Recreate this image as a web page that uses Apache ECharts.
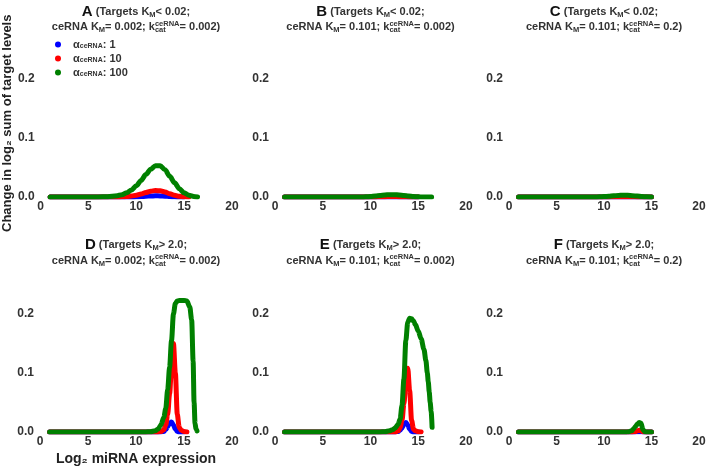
<!DOCTYPE html>
<html>
<head>
<meta charset="utf-8">
<script src="https://cdn.jsdelivr.net/npm/echarts@6/dist/echarts.min.js"></script>
<style>
  html, body { margin: 0; padding: 0; background: #fff; }
  #main { width: 709px; height: 468px; }
</style>
</head>
<body>
<div id="main"></div>
<script>
// panel text
const panelLetters = ['A', 'B', 'C', 'D', 'E', 'F'];
const targetKm = ['< 0.02;', '< 0.02;', '< 0.02;', '> 2.0;', '> 2.0;', '> 2.0;'];
const ceRnaKm = ['0.002', '0.101', '0.101', '0.002', '0.101', '0.101'];
const kcatCeRna = ['0.002', '0.002', '0.2', '0.002', '0.002', '0.2'];
const alphaLabels = ['1', '10', '100'];
const xTicks = [0, 5, 10, 15, 20];
const yTicks = [0, 0.1, 0.2];

// top row x positions (log2 miRNA expression)
const xTop = [1, 2, 3, 4, 5, 6, 7, 8, 8.5, 9, 9.5, 10, 10.5, 11, 11.5, 12, 12.5, 13, 13.5, 14, 14.5, 15, 15.5, 16, 16.4];
const aBlue = [0, 0, 0, 0, 0, 0, 0, 0, 0, 0, 0, 0.0003, 0.0007, 0.0013, 0.0018, 0.002, 0.0019, 0.0014, 0.0008, 0.0003, 0.0001, 0, null, null, null];
const aRed = [0, 0, 0, 0, 0, 0, 0, 0, 0.0003, 0.0008, 0.0018, 0.003, 0.005, 0.0075, 0.0098, 0.011, 0.0105, 0.0085, 0.0055, 0.003, 0.0012, 0.0003, 0, null, null];
const aGreen = [0, 0, 0, 0, 0, 0, 0.0005, 0.002, 0.004, 0.007, 0.012, 0.019, 0.028, 0.038, 0.047, 0.053, 0.053, 0.046, 0.035, 0.024, 0.014, 0.007, 0.003, 0.001, 0];
const bBlue = [0, 0, 0, 0, 0, 0, 0, 0, 0, 0, 0, 0, 0, 0, 0, 0, 0, 0, 0, 0, 0, 0, null, null, null];
const bRed = [0, 0, 0, 0, 0, 0, 0, 0, 0, 0, 0, 0.0001, 0.0002, 0.0004, 0.0006, 0.0008, 0.0008, 0.0006, 0.0004, 0.0002, 0.0001, 0, null, null, null];
const bGreen = [0, 0, 0, 0, 0, 0, 0, 0, 0, 0, 0.0004, 0.0008, 0.0015, 0.0025, 0.0034, 0.004, 0.004, 0.0034, 0.0025, 0.0015, 0.0008, 0.0003, 0.0001, 0, 0];
const cBlue = [0, 0, 0, 0, 0, 0, 0, 0, 0, 0, 0, 0, 0, 0, 0, 0, 0, 0, 0, 0, 0, 0, null, null, null];
const cRed = [0, 0, 0, 0, 0, 0, 0, 0, 0, 0, 0, 0.0001, 0.0002, 0.0004, 0.0005, 0.0006, 0.0005, 0.0004, 0.0002, 0.0001, 0, 0, null, null, null];
const cGreen = [0, 0, 0, 0, 0, 0, 0, 0, 0, 0, 0.0003, 0.0007, 0.0013, 0.002, 0.0027, 0.003, 0.0028, 0.0022, 0.0015, 0.0008, 0.0003, 0, null, null, null];

// bottom row x positions
const xBot = [1, 2, 3, 4, 5, 6, 7, 8, 9, 10, 11, 11.5, 12, 12.3, 12.6, 12.9, 13.1, 13.3, 13.5, 13.7, 13.9, 14.1, 14.3, 14.5, 14.7, 15, 15.3, 15.6, 15.8, 15.95, 16.05, 16.15, 16.25, 16.35, 16.45];
const dBlue = [0, 0, 0, 0, 0, 0, 0, 0, 0, 0, 0, 0, 0, 0, 0, 0.001, 0.004, 0.009, 0.015, 0.017, 0.012, 0.005, 0.001, 0, 0, 0, null, null, null, null, null, null, null, null, null];
const dRed = [0, 0, 0, 0, 0, 0, 0, 0, 0, 0, 0, 0, 0, 0, 0.001, 0.004, 0.012, 0.03, 0.065, 0.11, 0.15, 0.1, 0.03, 0.008, 0.003, 0.001, 0, null, null, null, null, null, null, null, null];
const dGreen = [0, 0, 0, 0, 0, 0, 0, 0, 0, 0, 0, 0.0005, 0.002, 0.005, 0.012, 0.025, 0.04, 0.072, 0.11, 0.155, 0.2, 0.218, 0.222, 0.223, 0.223, 0.223, 0.222, 0.212, 0.19, 0.12, 0.05, 0.015, 0.005, 0.002, null];
const eBlue = [0, 0, 0, 0, 0, 0, 0, 0, 0, 0, 0, 0, 0, 0, 0, 0.001, 0.003, 0.007, 0.013, 0.016, 0.012, 0.005, 0.001, 0, 0, 0, null, null, null, null, null, null, null, null, null];
const eRed = [0, 0, 0, 0, 0, 0, 0, 0, 0, 0, 0, 0, 0, 0, 0, 0.002, 0.007, 0.02, 0.048, 0.085, 0.108, 0.07, 0.02, 0.005, 0.002, 0.0005, 0, null, null, null, null, null, null, null, null];
const eGreen = [0, 0, 0, 0, 0, 0, 0, 0, 0, 0, 0, 0.0005, 0.002, 0.004, 0.007, 0.013, 0.022, 0.045, 0.09, 0.155, 0.186, 0.193, 0.192, 0.188, 0.182, 0.171, 0.158, 0.14, 0.121, 0.1, 0.085, 0.068, 0.05, 0.035, 0.008];
const fBlue = [0, 0, 0, 0, 0, 0, 0, 0, 0, 0, 0, 0, 0, 0, 0, 0, 0, 0.0002, 0.0004, 0.0005, 0.0003, 0.0001, 0, 0, 0, 0, null, null, null, null, null, null, null, null, null];
const fRed = [0, 0, 0, 0, 0, 0, 0, 0, 0, 0, 0, 0, 0, 0, 0, 0, 0.0005, 0.001, 0.002, 0.003, 0.002, 0.0005, 0, 0, 0, 0, null, null, null, null, null, null, null, null, null];
const fGreen = [0, 0, 0, 0, 0, 0, 0, 0, 0, 0, 0, 0, 0, 0, 0.0005, 0.002, 0.005, 0.009, 0.013, 0.016, 0.015, 0.004, 0.0005, 0, 0, 0, null, null, null, null, null, null, null, null, null];

const panelData = [
  [xTop, aBlue, aRed, aGreen],
  [xTop, bBlue, bRed, bGreen],
  [xTop, cBlue, cRed, cGreen],
  [xBot, dBlue, dRed, dGreen],
  [xBot, eBlue, eRed, eGreen],
  [xBot, fBlue, fRed, fGreen]
];

const colors = ['#0000ff', '#ff0000', '#008000'];
const FONT = '"Liberation Sans", Arial, sans-serif';
const TXT = '#333333';

// layout of the 6 panels
const cols = [{ left: 40, width: 192 }, { left: 275, width: 191 }, { left: 509, width: 190 }];
const rows = [{ zero: 197, t1: 12, t2: 27 }, { zero: 432, t1: 245, t2: 260.5 }];
const yMax = 0.25;
const plotH = 147.5;

const chart = echarts.init(document.getElementById('main'), null, { renderer: 'canvas' });

const seriesNames = alphaLabels.map(a => 'αceRNA: ' + a);

const grids = [], xAxes = [], yAxes = [], series = [], graphics = [];

const measureCtx = document.createElement('canvas').getContext('2d');
function textWidth(t, size) {
  measureCtx.font = 'bold ' + size + 'px ' + FONT;
  return measureCtx.measureText(t).width;
}

// lay out a title line from segments, centred at cx
function titleLine(segs, cx, cy) {
  let total = 0;
  segs.forEach(s => {
    if (s.sup) s.w = Math.max(textWidth(s.sup, 7.5), textWidth(s.sub, 7.5));
    else s.w = textWidth(s.t, s.size);
    total += s.w;
  });
  let x = cx - total / 2;
  segs.forEach(s => {
    const parts = s.sup ? [{ t: s.sup, size: 7.5, dy: -3.5 }, { t: s.sub, size: 7.5, dy: 3 }] : [s];
    parts.forEach(p => {
      graphics.push({
        type: 'text', x: x, y: cy + (p.dy || 0), silent: true,
        style: {
          text: p.t, font: 'bold ' + p.size + 'px ' + FONT,
          fill: p.color || TXT, align: 'left', verticalAlign: 'middle'
        }
      });
    });
    x += s.w;
  });
}

for (let i = 0; i < 6; i++) {
  const col = cols[i % 3], row = rows[Math.floor(i / 3)];
  grids.push({ left: col.left, width: col.width, top: row.zero - plotH, height: plotH });
  xAxes.push({
    gridIndex: i, type: 'value', min: 0, max: 20, interval: 5,
    axisLine: { show: false }, axisTick: { show: false }, splitLine: { show: false },
    axisLabel: { margin: 4, fontSize: 12, fontWeight: 'bold', color: TXT, fontFamily: FONT },
    name: i === 3 ? 'Log₂ miRNA expression' : '',
    nameLocation: 'middle', nameGap: 20,
    nameTextStyle: { fontSize: 14, fontWeight: 'bold', color: '#222', fontFamily: FONT }
  });
  yAxes.push({
    gridIndex: i, type: 'value', min: 0, max: yMax, interval: 0.1,
    axisLine: { show: false }, axisTick: { show: false }, splitLine: { show: false },
    axisLabel: {
      margin: 6, fontSize: 12, fontWeight: 'bold', color: TXT, fontFamily: FONT,
      formatter: v => yTicks.some(t => Math.abs(t - v) < 1e-9) ? v.toFixed(1) : ''
    },
    name: i === 0 ? 'Change in log₂ sum of target levels' : '',
    nameLocation: 'middle', nameRotate: 90, nameGap: 25,
    nameTextStyle: { fontSize: 13, fontWeight: 'bold', color: '#222', fontFamily: FONT }
  });

  const [xs, ...curves] = panelData[i];
  curves.forEach((ys, k) => {
    series.push({
      name: seriesNames[k], type: 'line', xAxisIndex: i, yAxisIndex: i,
      data: xs.map((x, j) => [x, ys[j]]).filter(p => p[1] !== null),
      showSymbol: false, symbol: 'none', smooth: 0.3, smoothMonotone: 'x',
      color: colors[k],
      lineStyle: { width: 5, color: colors[k], cap: 'round', join: 'round' },
      z: 2 + k
    });
  });

  const cx = col.left + col.width / 2;
  titleLine([
    { t: panelLetters[i], size: 15, color: '#111' },
    { t: ' (Targets K', size: 11 },
    { t: 'M', size: 7.5, dy: 3 },
    { t: targetKm[i], size: 11 }
  ], cx, row.t1);
  titleLine([
    { t: 'ceRNA K', size: 11 },
    { t: 'M', size: 7.5, dy: 3 },
    { t: '= ' + ceRnaKm[i] + '; k', size: 11 },
    { sup: 'ceRNA', sub: 'cat' },
    { t: '= ' + kcatCeRna[i] + ')', size: 11 }
  ], cx, row.t2);
}

chart.setOption({
  animation: false,
  backgroundColor: '#ffffff',
  grid: grids,
  xAxis: xAxes,
  yAxis: yAxes,
  legend: {
    data: seriesNames, orient: 'vertical', left: 55, top: 39, padding: 0,
    icon: 'circle', itemWidth: 20, itemHeight: 6, itemGap: 3,
    formatter: name => '{a|α}{s|ceRNA}{a|' + name.replace('αceRNA', '') + '}',
    textStyle: {
      rich: {
        a: { fontSize: 11, fontWeight: 'bold', color: TXT, fontFamily: FONT, lineHeight: 12 },
        s: { fontSize: 7, fontWeight: 'bold', color: TXT, fontFamily: FONT, lineHeight: 8, padding: [4, 0, 0, 0] }
      }
    }
  },
  graphic: graphics,
  series: series
});
</script>
</body>
</html>
